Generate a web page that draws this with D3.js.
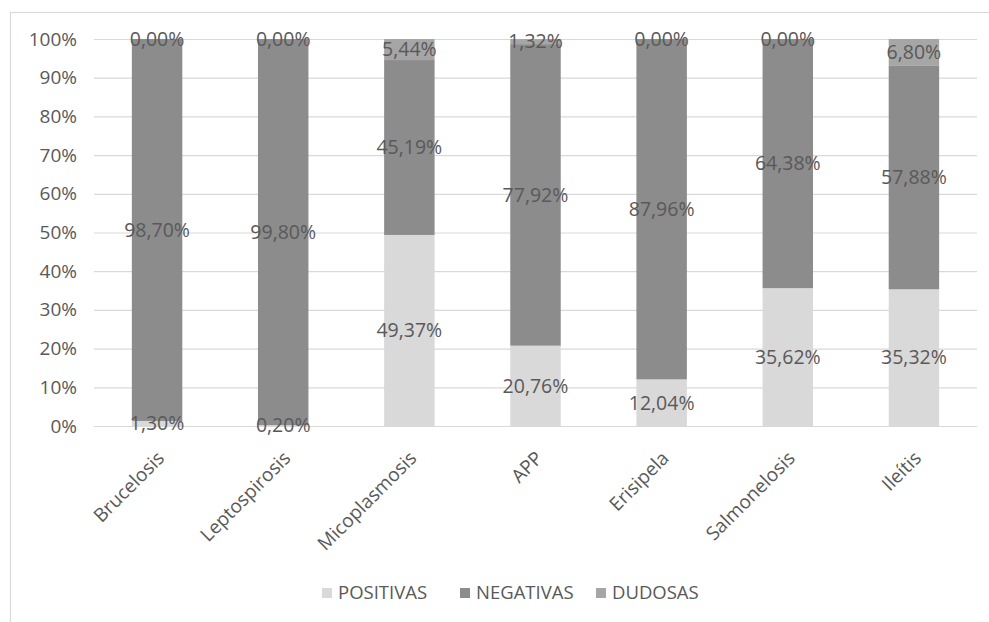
<!DOCTYPE html>
<html>
<head>
<meta charset="utf-8">
<script src="https://cdn.jsdelivr.net/npm/d3@7"></script>
<style>
  body { margin: 0; background: #fff; }
  text { font-family: "Open Sans", sans-serif; fill: #595959; }
</style>
</head>
<body>
<div id="graph1"></div>
<script>
//chart data (percent)
let categories = ["Brucelosis", "Leptospirosis", "Micoplasmosis", "APP", "Erisipela", "Salmonelosis", "Ileítis"];
let positivas  = [1.30, 0.20, 49.37, 20.76, 12.04, 35.62, 35.32];
let negativas  = [98.70, 99.80, 45.19, 77.92, 87.96, 64.38, 57.88];
let dudosas    = [0.00, 0.00, 5.44, 1.32, 0.00, 0.00, 6.80];
let series_names = ["POSITIVAS", "NEGATIVAS", "DUDOSAS"];
let y_ticks = [0, 10, 20, 30, 40, 50, 60, 70, 80, 90, 100];

let graph_1_width = 989, graph_1_height = 622;
let margin = {top: 39, right: 12, bottom: 196, left: 94};
let colors = ["#d9d9d9", "#8c8c8c", "#a6a6a6"];

//set up SVG object
let svg = d3.select("#graph1")
            .append("svg")
            .attr("width", graph_1_width)
            .attr("height", graph_1_height);

//chart frame (only left and top edges fall inside the picture)
svg.append("rect")
   .attr("x", 10.5).attr("y", 12.5)
   .attr("width", 1000).attr("height", 700)
   .attr("fill", "none")
   .attr("stroke", "#d9d9d9")
   .attr("stroke-width", 1.2);

let g = svg.append("g")
           .attr("transform", `translate(${margin.left},${margin.top})`);

let inner_w = graph_1_width - margin.left - margin.right;
let inner_h = graph_1_height - margin.top - margin.bottom;

//scales
let x = d3.scaleBand()
          .domain(categories)
          .range([0, inner_w])
          .paddingInner(0.6)
          .paddingOuter(0.3);

let y = d3.scaleLinear()
          .domain([0, 100])
          .range([inner_h, 0]);

//gridlines + y axis labels
g.append("g")
 .call(d3.axisLeft(y).tickValues(y_ticks).tickSize(-inner_w).tickPadding(17)
         .tickFormat(function(d) { return d + "%" }))
 .call(ax => ax.select(".domain").remove())
 .call(ax => ax.selectAll("line").attr("stroke", "#d9d9d9").attr("stroke-width", 1.2))
 .call(ax => ax.selectAll("text").style("font-size", "19px").attr("fill", "#595959"));

//stack the series
let rows = categories.map(function(c, i) {
  return {cat: c, POSITIVAS: positivas[i], NEGATIVAS: negativas[i], DUDOSAS: dudosas[i]};
});
let stacked = d3.stack().keys(series_names)(rows);

let layers = g.selectAll(".layer")
              .data(stacked)
              .enter()
              .append("g")
              .attr("class", "layer")
              .attr("fill", function(d, i) { return colors[i] });

layers.selectAll("rect")
      .data(function(d) { return d })
      .enter()
      .append("rect")
      .attr("x", function(d) { return x(d.data.cat) })
      .attr("y", function(d) { return y(d[1]) })
      .attr("width", x.bandwidth())
      .attr("height", function(d) { return y(d[0]) - y(d[1]) });

//data labels in the middle of each segment
let fmt = function(v) { return v.toFixed(2).replace(".", ",") + "%" };
let labels = g.append("g");
stacked.forEach(function(layer) {
  labels.selectAll(null)
        .data(layer)
        .enter()
        .append("text")
        .attr("x", function(d) { return x(d.data.cat) + x.bandwidth() / 2 })
        .attr("y", function(d) { return y((d[0] + d[1]) / 2) })
        .attr("dy", "0.35em")
        .style("text-anchor", "middle")
        .style("font-size", "19.5px")
        .text(function(d) { return fmt(d[1] - d[0]) });
});

//x axis labels, rotated
let xlab = g.append("g");
xlab.selectAll("text")
    .data(categories)
    .enter()
    .append("text")
    .attr("transform", function(d) {
      return `translate(${x(d) + x.bandwidth() / 2 - 1},${inner_h + 24}) rotate(-45)`;
    })
    .attr("dy", "0.7em")
    .style("text-anchor", "end")
    .style("font-size", "19px")
    .text(function(d) { return d });

//legend
let legend_x = [322, 460, 596];
let legend = svg.append("g").attr("transform", "translate(0,593)");
series_names.forEach(function(name, i) {
  legend.append("rect")
        .attr("x", legend_x[i]).attr("y", -5)
        .attr("width", 10).attr("height", 10)
        .attr("fill", colors[i]);
  legend.append("text")
        .attr("x", legend_x[i] + 16)
        .attr("y", 0)
        .attr("dy", "0.35em")
        .style("font-size", "18.5px")
        .text(name);
});
</script>
</body>
</html>
